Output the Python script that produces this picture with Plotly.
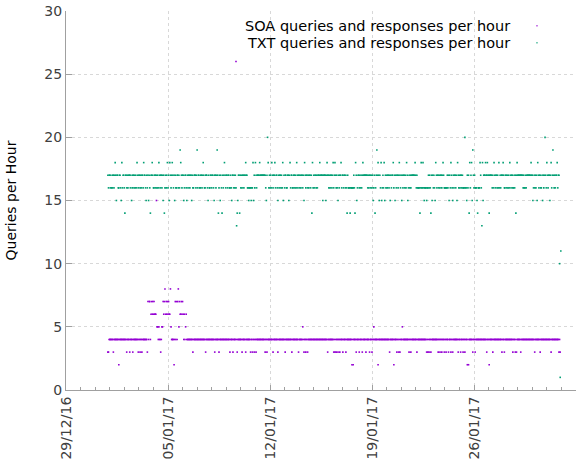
import plotly.graph_objects as go
from datetime import datetime, timedelta

# first hourly sample
START = "2016-12-31 21:00"

# SOA queries+responses per hour, one string per day (24 hourly values),
# each character is a value written in base 36 (4 -> 4, f -> 15, q -> 26)
soa_days = [
    "334444444344444444244444",
    "444444434444344443444444",
    "443443443444444443747746",
    "76767666f554544345576786",
    "767676685444424747478576",
    "676764645644444444443444",
    "444444444444444443444444",
    "444444443444444344444444",
    "4444444443444434444q4344",
    "444443444443444444434434",
    "434434444444444444434434",
    "444444443444444434444444",
    "444434444444444344444444",
    "443444444543443443444444",
    "444444444444444444444444",
    "443444444444343434434434",
    "444344443444444444242444",
    "434444344443444443444443",
    "444344544444424444444444",
    "444444443444444244443443",
    "434445444444444434434444",
    "444443444444444444444343",
    "434434444444444434434434",
    "443443444344434434444444",
    "434443444344344424244444",
    "434443444444444444444444",
    "344424444434444444444444",
    "434443444444444444434443",
    "434444443444444444444444",
    "444444434444444434444444",
    "444444444434444444444443",
    "43",
]

# TXT queries+responses per hour (g=16, h=17, i=18, f=15, e=14, j=19, k=20, d=13, a=10, b=11)
txt_days = [
    "hghhghgghhghihfhhgghhgfi",
    "ghhgehhghghhhghfghhghghg",
    "ihghhghghhgihhgfhghfhgeh",
    "hihgghhghghgihghhghfhegh",
    "ghighfihghihghfhgghhghgj",
    "ihghhfghhgfhghhghhfhgghh",
    "hghjghhgghhghihgghhhgfhg",
    "ghhghhgfhhghjheghfhgehgh",
    "ihghhghhgghgfhhghghgdefh",
    "hehghghhghhihhggfgggfggi",
    "fhgihghhhhihhhhhhhhhgfhk",
    "ighghgihghhighhgfhghhghg",
    "ifhghhgghhfhighhgghhghgi",
    "hghhghghhghfihghhghghhgh",
    "eighghhghghhhihhhhfhhhhf",
    "hihhghghhghighihghgfhghh",
    "ighhghhghgehgggeggggghge",
    "ihfghhghghghihhhhhhhghgh",
    "hghghfgheghjhihfhgifghgi",
    "fhghghhghfhghhighfhghhgh",
    "ihghfhghhghgihfghghghhhh",
    "hhihghggggegiggigfgggfgg",
    "hghgehfhghgfihghhghghhgh",
    "ihggggghghfhgihgfhghhghf",
    "ihghghhghgggkggfhgheighi",
    "fjhghgggfegggihgdifhhhih",
    "hihhehhhhghgihghhghgighg",
    "hhhihgghhghghgihghhgghgh",
    "ehihhhhhhhhhghgghghhhhhh",
    "hihhfghghghfihghhgghfhgh",
    "khgihghhfhighjhghghhighh",
    "a1b",
]

X_RANGE = ["2016-12-29", "2017-02-02"]
SERIES_NAMES = ["SOA queries and responses per hour", "TXT queries and responses per hour"]
COLORS = ["#9400d3", "#009e73"]


def decode(days):
    t0 = datetime.strptime(START, "%Y-%m-%d %H:%M")
    xs, ys = [], []
    for d, s in enumerate(days):
        for i, c in enumerate(s):
            xs.append(t0 + timedelta(days=d, hours=i))
            ys.append(int(c, 36))
    return xs, ys


fig = go.Figure()
for days, name, col in zip([soa_days, txt_days], SERIES_NAMES, COLORS):
    xs, ys = decode(days)
    fig.add_trace(go.Scatter(
        x=xs, y=ys, mode="markers", name=name,
        marker=dict(symbol="square", size=1.6, color=col, line=dict(width=0)),
        cliponaxis=False,
    ))

axis_col = "#a0a0a0"
grid_col = "#d8d8d8"
tick_font = dict(family="DejaVu Sans", size=14, color="#404040")

fig.update_layout(
    width=582, height=461,
    margin=dict(l=66, r=6, t=11, b=71, autoexpand=False),
    paper_bgcolor="white", plot_bgcolor="white",
    showlegend=False,
    font=dict(family="DejaVu Sans", size=14, color="#333333"),
    xaxis=dict(
        type="date", range=X_RANGE, automargin=False,
        tick0="2016-12-29", dtick=7 * 86400000,
        tickformat="%d/%m/%y", tickangle=-90,
        ticks="inside", ticklen=5, tickcolor=axis_col,
        showline=True, linecolor=axis_col, linewidth=1.2,
        showgrid=True, gridcolor=grid_col, griddash="dot", gridwidth=1,
        zeroline=False,
        minor=dict(dtick=86400000, ticks="inside", ticklen=3, tickcolor=axis_col, showgrid=False),
        tickfont=tick_font,
    ),
    yaxis=dict(
        range=[0, 30], dtick=5, automargin=False,
        ticks="inside", ticklen=6, tickcolor=axis_col,
        showline=True, linecolor=axis_col, linewidth=1.2,
        showgrid=True, gridcolor=grid_col, griddash="dot", gridwidth=1,
        zeroline=False,
        tickfont=tick_font,
        title=dict(text="Queries per Hour", font=dict(family="DejaVu Sans", size=14, color="black"), standoff=24),
    ),
)

# key (text right-aligned, sample dot on its right, as in the original)
for k, (name, col) in enumerate(zip(SERIES_NAMES, COLORS)):
    yp = 0.961 - k * 0.045
    fig.add_annotation(x=0.8745, y=yp, xref="paper", yref="paper", text=name,
                       showarrow=False, xanchor="right", yanchor="middle",
                       font=dict(family="DejaVu Sans", size=14.5, color="black"))
    fig.add_shape(type="rect", xref="paper", yref="paper",
                  x0=0.9225, x1=0.9245, y0=yp - 0.002, y1=yp + 0.002,
                  fillcolor=col, line=dict(width=0))

# place the figure at the page's top-left corner (no default body margin)
fig.write_html("out.html", config={"displayModeBar": False},
               post_script="document.body.style.margin='0px';")
